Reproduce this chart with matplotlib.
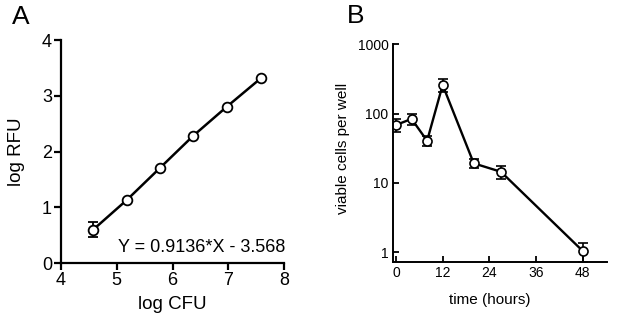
import numpy as np
import matplotlib
matplotlib.use("Agg")
import matplotlib.pyplot as plt

plt.rcParams['font.family'] = ['Liberation Sans', 'DejaVu Sans']

# panel A: standard curve
log_cfu = [4.58, 5.18, 5.77, 6.37, 6.97, 7.58]
log_rfu = [0.60, 1.13, 1.70, 2.28, 2.80, 3.31]
log_rfu_err = [0.14, 0.0, 0.0, 0.0, 0.0, 0.0]
fit_text = "Y = 0.9136*X - 3.568"

# panel B: viable cells over time
hours = [0, 4, 8, 12, 20, 27, 48]
cells = [68.6, 84, 40.6, 259, 19.2, 14.5, 1.05]
cells_err = [14, 16, 6.5, 57, 3.0, 2.9, 0.32]

W, H = 617, 324
fig = plt.figure(figsize=(W / 100, H / 100), dpi=100)


def px_axes(left, top, right, bottom):
    return fig.add_axes([left / W, 1 - bottom / H, (right - left) / W, (bottom - top) / H])


def center_label(ax, xl, yl):
    # place axis labels by their centres (axes coords)
    ax.xaxis.label.set_va('center')
    ax.yaxis.label.set_va('center')
    ax.xaxis.set_label_coords(*xl)
    ax.yaxis.set_label_coords(*yl)


# ---- A ----
axA = px_axes(61, 40, 284, 263)
axA.plot(log_cfu, log_rfu, '-', color='black', lw=1.8, zorder=2)
axA.errorbar(log_cfu, log_rfu, yerr=log_rfu_err, fmt='o', mfc='white', mec='black',
             mew=1.3, ms=7, ecolor='black', elinewidth=1.3, capsize=3.5, capthick=1.3,
             zorder=3)
axA.set_xlim(4, 8)
axA.set_ylim(0, 4)
axA.set_xticks([4, 5, 6, 7, 8])
axA.set_yticks([0, 1, 2, 3, 4])
for s in ['top', 'right']:
    axA.spines[s].set_visible(False)
for s in ['left', 'bottom']:
    axA.spines[s].set_linewidth(1.6)
axA.tick_params(direction='out', width=1.6, length=5, labelsize=13, pad=1.5)
axA.set_xlabel("log CFU", fontsize=13.5)
axA.set_ylabel("log RFU", fontsize=13.5)
center_label(axA, (0.5, -0.185), (-0.2, 0.5))
axA.text(8.02, 0.27, fit_text, ha='right', va='center', fontsize=13)
fig.text(21 / W, 1 - 17 / H, "A", fontsize=19, ha='center', va='center')

# ---- B ----
axB = px_axes(392.7, 44.3, 606.7, 262.3)
axB.errorbar(hours, cells, yerr=cells_err, fmt='-o', color='black', lw=1.7,
             mfc='white', mec='black', mew=1.2, ms=6.5, ecolor='black',
             elinewidth=1.2, capsize=3.5, capthick=1.2)
axB.set_yscale('log')
axB.set_ylim(0.718, 1000)
axB.set_xlim(-0.85, 54.2)
axB.set_xticks([0, 12, 24, 36, 48])
axB.set_yticks([1, 10, 100, 1000])
axB.set_yticklabels(["1", "10", "100", "1000"])
axB.minorticks_off()
for s in ['top', 'right']:
    axB.spines[s].set_visible(False)
for s in ['left', 'bottom']:
    axB.spines[s].set_linewidth(1.4)
axB.tick_params(direction='in', width=1.3, length=4, labelsize=10, pad=3)
axB.set_xlabel("time (hours)", fontsize=11)
axB.set_ylabel("viable cells per well", fontsize=11)
center_label(axB, (0.455, -0.173), (-0.232, 0.524))
fig.text(356 / W, 1 - 16 / H, "B", fontsize=19, ha='center', va='center')

fig.savefig("out.png", dpi=100)
